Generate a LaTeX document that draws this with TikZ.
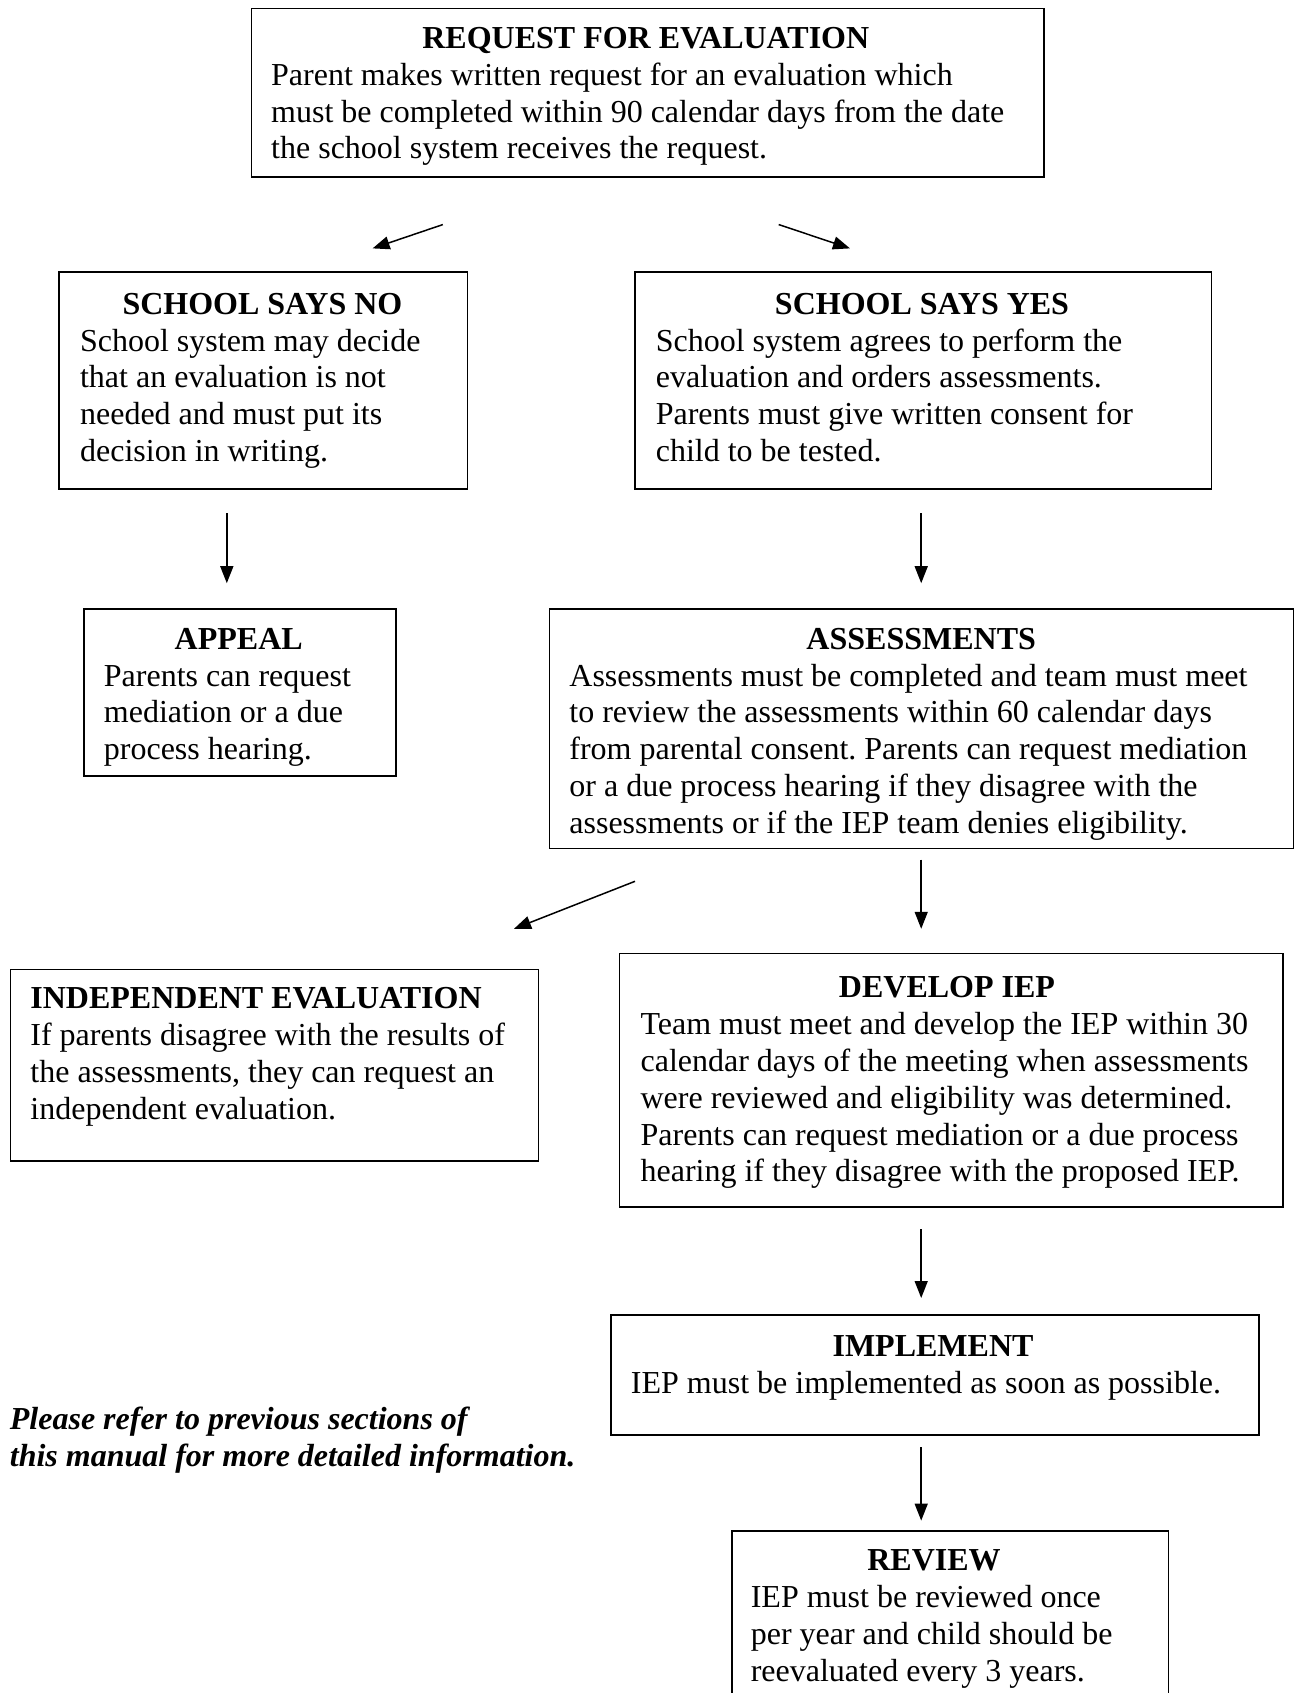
\documentclass[tikz,border=0pt]{standalone}
\usepackage{fontspec}
\setmainfont{Liberation Serif}
\usetikzlibrary{arrows.meta}
\frenchspacing
\tikzset{
  box/.style={draw, line width=1.6pt, anchor=north west, inner sep=0pt},
  ttl/.style={font=\bfseries\fontsize{32}{36.8}\selectfont, anchor=base, inner sep=0pt},
  bdy/.style={font=\fontsize{32}{36.8}\selectfont, align=left, anchor=north west, inner sep=0pt},
  arr/.style={-{Triangle[length=17pt,width=13pt]}, line width=1.5pt}
}
\newcommand{\fl}{\rule{0pt}{25pt}}
\begin{document}
\begin{tikzpicture}[x=1pt,y=-1pt]
\useasboundingbox (0,0) rectangle (1295,1693);
% boxes
\node[box, minimum width=792.7pt, minimum height=168.4pt] (req) at (250.6,7.6) {};
\node[box, minimum width=408.3pt, minimum height=217pt] (no) at (58.3,271) {};
\node[box, minimum width=576.7pt, minimum height=217pt] (yes) at (634,271) {};
\node[box, minimum width=312.1pt, minimum height=167.4pt] (appeal) at (83.2,608) {};
\node[box, minimum width=744.2pt, minimum height=239.8pt] (assess) at (548.6,608) {};
\node[box, minimum width=528.1pt, minimum height=191.2pt] (indep) at (9.7,968.8) {};
\node[box, minimum width=663.2pt, minimum height=253.8pt] (develop) at (618.8,952.6) {};
\node[box, minimum width=648pt, minimum height=119.8pt] (impl) at (610.2,1314.4) {};
\node[box, minimum width=436.3pt, minimum height=200pt] (review) at (731.2,1530.4) {};
% titles
\node[ttl] (reqT) at (645.8,48.4) {REQUEST FOR EVALUATION};
\node[ttl] (noT) at (262.4,314) {SCHOOL SAYS NO};
\node[ttl] (yesT) at (922,314) {SCHOOL SAYS YES};
\node[ttl] (appealT) at (238.7,649) {APPEAL};
\node[ttl] (assessT) at (921.2,649) {ASSESSMENTS};
\node[ttl, anchor=base west] (indepT) at (30.2,1008.6) {INDEPENDENT EVALUATION};
\node[ttl] (developT) at (947,997.6) {DEVELOP IEP};
\node[ttl] (implT) at (933,1356.3) {IMPLEMENT};
\node[ttl] (reviewT) at (934,1570.6) {REVIEW};
% bodies
\node[bdy] (reqB) at (271,60.2) {\fl Parent makes written request for an evaluation which\\must be completed within 90 calendar days from the date\\the school system receives the request.};
\node[bdy] (noB) at (79.9,325.8) {\fl School system may decide\\that an evaluation is not\\needed and must put its\\decision in writing.};
\node[bdy] (yesB) at (655.6,325.8) {\fl School system agrees to perform the\\evaluation and orders assessments.\\Parents must give written consent for\\child to be tested.};
\node[bdy] (appealB) at (103.7,660.8) {\fl Parents can request\\mediation or a due\\process hearing.};
\node[bdy] (assessB) at (569.2,660.8) {\fl Assessments must be completed and team must meet\\to review the assessments within 60 calendar days\\from parental consent. Parents can request mediation\\or a due process hearing if they disagree with the\\assessments or if the IEP team denies eligibility.};
\node[bdy] (indepB) at (30.2,1020.4) {\fl If parents disagree with the results of\\the assessments, they can request an\\independent evaluation.};
\node[bdy] (developB) at (640.4,1009.4) {\fl Team must meet and develop the IEP within 30\\calendar days of the meeting when assessments\\were reviewed and eligibility was determined.\\Parents can request mediation or a due process\\hearing if they disagree with the proposed IEP.};
\node[bdy] (implB) at (630.7,1368) {\fl IEP must be implemented as soon as possible.};
\node[bdy] (reviewB) at (750.6,1582.4) {\fl IEP must be reviewed once\\per year and child should be\\reevaluated every 3 years.};
\node[bdy, font=\bfseries\itshape\fontsize{32}{36.8}\selectfont] (note) at (9.7,1404) {\fl Please refer to previous sections of\\this manual for more detailed information.};
% arrows
\coordinate (a1s) at (442.8,224.6); \coordinate (a1e) at (372.6,248.4);
\coordinate (a2s) at (778.7,224.6); \coordinate (a2e) at (850,248.4);
\coordinate (a3s) at (226.8,513); \coordinate (a3e) at (226.8,583.2);
\coordinate (a4s) at (921.2,513); \coordinate (a4e) at (921.2,583.2);
\coordinate (a5s) at (635,881.3); \coordinate (a5e) at (514,928.8);
\coordinate (a6s) at (921.2,859.7); \coordinate (a6e) at (921.2,928.8);
\coordinate (a7s) at (921.2,1229); \coordinate (a7e) at (921.2,1298);
\coordinate (a8s) at (921.2,1447); \coordinate (a8e) at (921.2,1520.6);
\draw[arr] (a1s) -- (a1e);
\draw[arr] (a2s) -- (a2e);
\draw[arr] (a3s) -- (a3e);
\draw[arr] (a4s) -- (a4e);
\draw[arr] (a5s) -- (a5e);
\draw[arr] (a6s) -- (a6e);
\draw[arr] (a7s) -- (a7e);
\draw[arr] (a8s) -- (a8e);
\end{tikzpicture}
\end{document}
